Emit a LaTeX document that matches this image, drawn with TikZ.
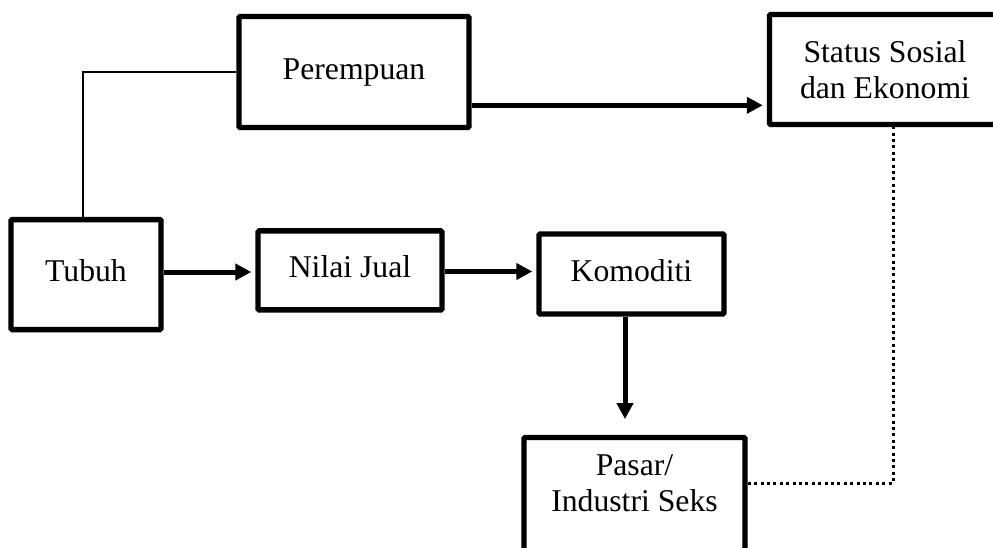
\documentclass[tikz,border=0pt]{standalone}
\usepackage{fontspec}
\setmainfont{Liberation Serif}
\usetikzlibrary{arrows.meta}
\begin{document}
\begin{tikzpicture}[x=1pt,y=-1pt,
  box/.style={draw, line width=5.4pt, rounded corners=1.2pt, inner sep=0pt,
    font=\fontsize{31.7}{35.5}\selectfont},
  oneline/.style={text height=22pt, text depth=8pt},
  arr/.style={line width=5pt, -{Triangle[length=16pt,width=16pt]}, shorten >=4pt},
  link/.style={line width=2.8pt},
  dotline/.style={line width=3pt, dash pattern=on 3pt off 3.4pt}
]
\useasboundingbox (0,0) rectangle (993,547);
\clip (0,0) rectangle (993,547);

% boxes
\node[box,oneline,minimum width=230pt,minimum height=111pt] (Perempuan) at (354,72) {Perempuan};
\node[box,align=center,minimum width=231pt,minimum height=110pt] (Status) at (885,69.5) {Status Sosial\\dan Ekonomi};
\node[box,oneline,minimum width=150pt,minimum height=110pt] (Tubuh) at (86,274.6) {Tubuh};
\node[box,oneline,minimum width=184pt,minimum height=79pt] (Nilai) at (350,270.4) {Nilai Jual};
\node[box,oneline,minimum width=185pt,minimum height=80pt] (Komoditi) at (631.5,274) {Komoditi};
\node[box,minimum width=221pt,minimum height=150pt,anchor=north] (Pasar) at (634.5,434.8) {};
\node[font=\fontsize{31.7}{35.5}\selectfont,align=center,inner sep=0pt] (PasarText) at (634.5,483) {Pasar/\\Industri Seks};

% helper coordinates for connector rows and columns
\coordinate (elbow) at (83,72);
\coordinate (ya) at (0,272);
\coordinate (yb) at (0,271.5);
\coordinate (yc) at (0,105.3);
\coordinate (xd) at (625,0);
\coordinate (dk) at (893,483);

% connectors
\draw[link] (Perempuan.west) -- (elbow) -- (elbow |- Tubuh.north);
\draw[arr] (Tubuh.east |- ya) -- (Nilai.west |- ya);
\draw[arr] (Nilai.east |- yb) -- (Komoditi.west |- yb);
\draw[arr] (Perempuan.east |- yc) -- (Status.west |- yc);
\draw[arr, shorten >=15.7pt] (xd |- Komoditi.south) -- (xd |- Pasar.north);
\draw[dotline] (Pasar.east |- PasarText) -- (dk) -- (dk |- Status.south);
\end{tikzpicture}
\end{document}
